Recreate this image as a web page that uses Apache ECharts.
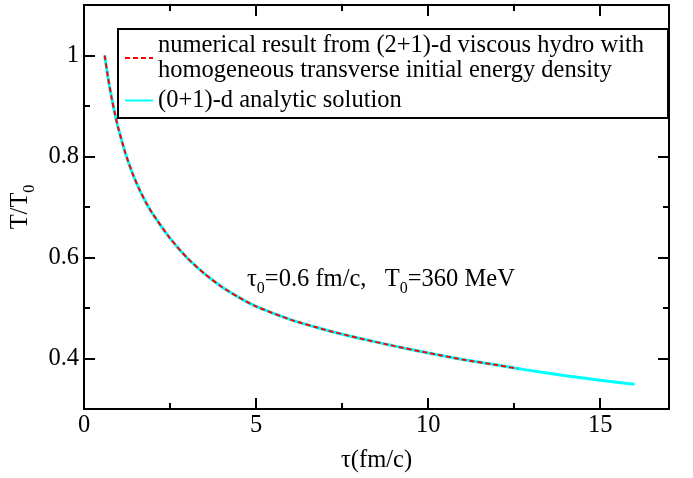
<!DOCTYPE html>
<html><head><meta charset="utf-8">
<script src="https://cdn.jsdelivr.net/npm/echarts@6/dist/echarts.min.js"></script>
<style>html,body{margin:0;padding:0;background:#fff}#c{width:693px;height:478px}</style>
</head><body><div id="c"></div>
<script>
const tauAnalytic = [0.6,0.7,0.8,0.9,1.0,1.2,1.4,1.6,1.8,2.0,2.5,3.0,3.5,4.0,4.5,5.0,6.0,7.0,8.0,9.0,10.0,11.0,12.0,12.6,13.0,14.0,15.0,16.0];
const tAnalytic   = [1.000,0.955,0.917,0.884,0.855,0.807,0.768,0.736,0.709,0.686,0.638,0.599,0.568,0.542,0.521,0.503,0.477,0.457,0.440,0.425,0.411,0.398,0.387,0.380,0.376,0.366,0.357,0.349];
const tauNumeric  = [0.6,0.7,0.8,0.9,1.0,1.2,1.4,1.6,1.8,2.0,2.5,3.0,3.5,4.0,4.5,5.0,6.0,7.0,8.0,9.0,10.0,11.0,12.0,12.6];
const tNumeric    = [1.000,0.955,0.917,0.884,0.855,0.807,0.768,0.736,0.709,0.686,0.638,0.599,0.568,0.542,0.521,0.503,0.477,0.457,0.440,0.425,0.411,0.398,0.387,0.380];
const xMajorTicks = [0,5,10,15];
const xMinorTicks = [2.5,7.5,12.5];
const yMajorTicks = [0.4,0.6,0.8,1.0];
const yMinorTicks = [0.5,0.7,0.9];
const nameNumeric = 'numerical result from (2+1)-d viscous hydro with\nhomogeneous transverse initial energy density';
const nameAnalytic = '(0+1)-d analytic solution';
const noteText = '{m|τ}{s|0}{m|=0.6 fm/c,   T}{s|0}{m|=360 MeV}';

const FONT = 'Liberation Serif';
const FS = 24.5;
const chart = echarts.init(document.getElementById('c'), null, {renderer:'canvas'});

function mkX(pos, ticks, len, labels) {
  return {
    type:'value', min:0, max:17, position:pos,
    axisLine:{show:true, onZero:false, lineStyle:{color:'#000', width:2}},
    axisTick:{show:true, inside:true, length:len, customValues:ticks, lineStyle:{color:'#000', width:2}},
    axisLabel:{show:labels, customValues:ticks, color:'#000', fontFamily:FONT, fontSize:FS, margin:4},
    splitLine:{show:false}
  };
}
function mkY(pos, ticks, len, labels) {
  return {
    type:'value', min:0.3, max:1.1, position:pos,
    axisLine:{show:true, onZero:false, lineStyle:{color:'#000', width:2}},
    axisTick:{show:true, inside:true, length:len, customValues:ticks, lineStyle:{color:'#000', width:2}},
    axisLabel:{show:labels, customValues:ticks, color:'#000', fontFamily:FONT, fontSize:FS, margin:5,
      formatter: v => String(+v.toFixed(2))},
    splitLine:{show:false}
  };
}
const xa = [mkX('bottom', xMajorTicks, 11, true), mkX('bottom', xMinorTicks, 6, false),
            mkX('top', xMajorTicks, 11, false), mkX('top', xMinorTicks, 6, false)];
Object.assign(xa[0], {name:'τ(fm/c)', nameLocation:'middle', nameGap:39,
  nameTextStyle:{color:'#000', fontFamily:FONT, fontSize:FS}});
const ya = [mkY('left', yMajorTicks, 11, true), mkY('left', yMinorTicks, 6, false),
            mkY('right', yMajorTicks, 11, false), mkY('right', yMinorTicks, 6, false)];
Object.assign(ya[0], {name:'{m|T/T}{s|0}', nameLocation:'middle', nameGap:40, nameRotate:90,
  nameTextStyle:{color:'#000', fontFamily:FONT, fontSize:FS,
    rich:{m:{fontFamily:FONT, fontSize:FS, lineHeight:34, color:'#000'},
          s:{fontFamily:FONT, fontSize:16, lineHeight:16, verticalAlign:'bottom', color:'#000'}}}});

chart.setOption({
  animation:false,
  backgroundColor:'#fff',
  grid:{left:80, top:5, right:24, bottom:60, containLabel:false},
  xAxis: xa,
  yAxis: ya,
  legend:{
    orient:'vertical', left:118, top:29,
    data:[nameNumeric, nameAnalytic],
    backgroundColor:'#fff', borderColor:'#000', borderWidth:2, borderRadius:0,
    padding:[4,24,5,6], itemGap:5, itemWidth:28, itemHeight:14,
    itemStyle:{color:'transparent', borderColor:'transparent', borderWidth:0, opacity:0},
    textStyle:{color:'#000', fontFamily:FONT, fontSize:FS, lineHeight:25},
    selectedMode:false
  },
  graphic:[{
    type:'text', left:247, top:267, z:10,
    style:{text:noteText, fill:'#000', font:FS + 'px "Liberation Serif"',
      rich:{m:{fontFamily:FONT, fontSize:FS, lineHeight:34, fill:'#000'},
            s:{fontFamily:FONT, fontSize:16, lineHeight:16, verticalAlign:'bottom', fill:'#000'}}}
  }],
  series:[
    {name:nameAnalytic, type:'line', xAxisIndex:0, yAxisIndex:0, showSymbol:false, symbol:'none',
     smooth:0.2, data: tauAnalytic.map((t,i)=>[t, tAnalytic[i]]),
     lineStyle:{color:'#00ffff', width:3}, itemStyle:{color:'#00ffff'}, z:2},
    {name:nameNumeric, type:'line', xAxisIndex:0, yAxisIndex:0, showSymbol:false, symbol:'none',
     smooth:0.2, data: tauNumeric.map((t,i)=>[t, tNumeric[i]]),
     lineStyle:{color:'#ff0000', width:2, type:[5,3]}, itemStyle:{color:'#ff0000'}, z:3}
  ]
});
</script></body></html>
